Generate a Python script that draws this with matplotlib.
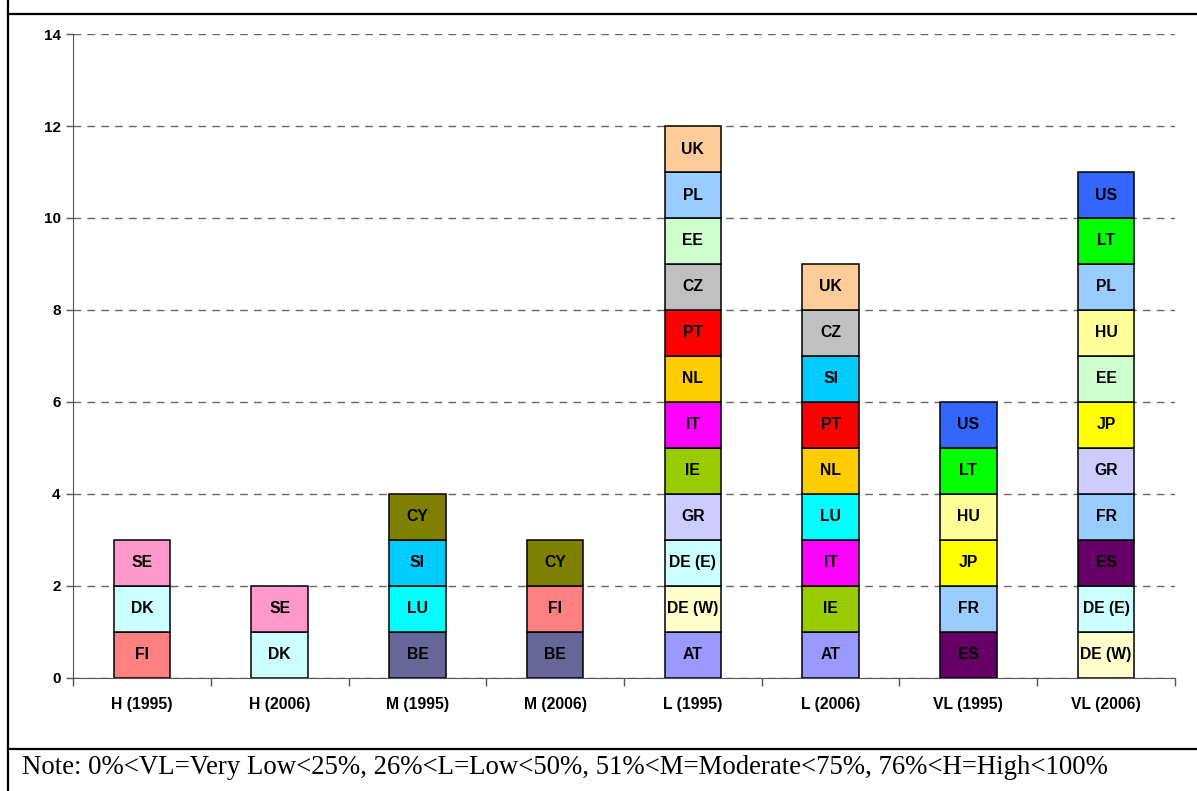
import numpy as np
import matplotlib.pyplot as plt
from matplotlib.lines import Line2D

# Categories (reduction level and year) and the countries stacked in each bar, bottom to top
categories = ["H (1995)", "H (2006)", "M (1995)", "M (2006)",
              "L (1995)", "L (2006)", "VL (1995)", "VL (2006)"]
h_1995 = ["FI", "DK", "SE"]
h_2006 = ["DK", "SE"]
m_1995 = ["BE", "LU", "SI", "CY"]
m_2006 = ["BE", "FI", "CY"]
l_1995 = ["AT", "DE (W)", "DE (E)", "GR", "IE", "IT", "NL", "PT", "CZ", "EE", "PL", "UK"]
l_2006 = ["AT", "IE", "IT", "LU", "NL", "PT", "SI", "CZ", "UK"]
vl_1995 = ["ES", "FR", "JP", "HU", "LT", "US"]
vl_2006 = ["DE (W)", "DE (E)", "ES", "FR", "GR", "JP", "EE", "HU", "PL", "LT", "US"]
stacks = [h_1995, h_2006, m_1995, m_2006, l_1995, l_2006, vl_1995, vl_2006]

# each country counts as one
segment_value = 1

country_colors = {
    "FI": "#FF8080", "DK": "#CCFFFF", "SE": "#FF99CC", "BE": "#666699",
    "LU": "#00FFFF", "SI": "#00CCFF", "CY": "#808000", "AT": "#9999FF",
    "DE (W)": "#FFFFCC", "DE (E)": "#CCFFFF", "GR": "#CCCCFF", "IE": "#99CC00",
    "IT": "#FF00FF", "NL": "#FFCC00", "PT": "#FF0000", "CZ": "#C0C0C0",
    "EE": "#CCFFCC", "PL": "#99CCFF", "UK": "#FFCC99", "ES": "#660066",
    "FR": "#99CCFF", "JP": "#FFFF00", "HU": "#FFFF99", "LT": "#00FF00",
    "US": "#3366FF",
}

plt.rcParams["font.family"] = "Liberation Sans"

fig = plt.figure(figsize=(11.97, 7.91), dpi=100)
ax = fig.add_axes([0.061, 0.1429, 0.9206, 0.8141])

x = np.arange(len(categories))
for xi, stack in zip(x, stacks):
    bottom = 0
    for country in stack:
        ax.bar(xi, segment_value, bottom=bottom, width=0.41,
               color=country_colors[country], edgecolor="black", linewidth=1.1, zorder=3)
        ax.text(xi, bottom + segment_value / 2, country, ha="center", va="center",
                fontsize=11.3, fontweight="bold", color="black", zorder=4)
        bottom += segment_value

ax.set_xlim(-0.5, len(categories) - 0.5)
ax.set_ylim(0, 14)
ax.set_yticks(range(0, 15, 2))
ax.tick_params(axis="y", labelsize=11, length=5, width=1, color="#555555", pad=4)
for lab in ax.get_yticklabels():
    lab.set_fontweight("bold")

# category labels between boundary ticks
ax.set_xticks(x)
ax.set_xticklabels(categories, fontsize=11.3, fontweight="bold")
ax.tick_params(axis="x", length=0, pad=14)
ax.set_xticks(np.arange(-0.5, len(categories)), minor=True)
ax.tick_params(axis="x", which="minor", length=6, width=1, color="#555555")

ax.yaxis.grid(True, linestyle=(0, (5.5, 4.5)), color="#666666", linewidth=1, zorder=0)
for side in ["top", "right"]:
    ax.spines[side].set_visible(False)
ax.spines["left"].set_color("#555555")
ax.spines["bottom"].set_color("#555555")

# table-like frame around the chart and the note row
fig.add_artist(Line2D([0.0068, 0.0068], [0, 1], color="black", linewidth=1.6))
fig.add_artist(Line2D([0.0068, 1], [0.9823, 0.9823], color="black", linewidth=1.6))
fig.add_artist(Line2D([0.0068, 1], [0.0531, 0.0531], color="black", linewidth=1.6))

fig.text(0.0185, 0.021, "Note: 0%<VL=Very Low<25%, 26%<L=Low<50%, 51%<M=Moderate<75%, 76%<H=High<100%",
         fontsize=19.3, family="Liberation Serif", ha="left", va="baseline")

fig.savefig("out.png", dpi=100)
